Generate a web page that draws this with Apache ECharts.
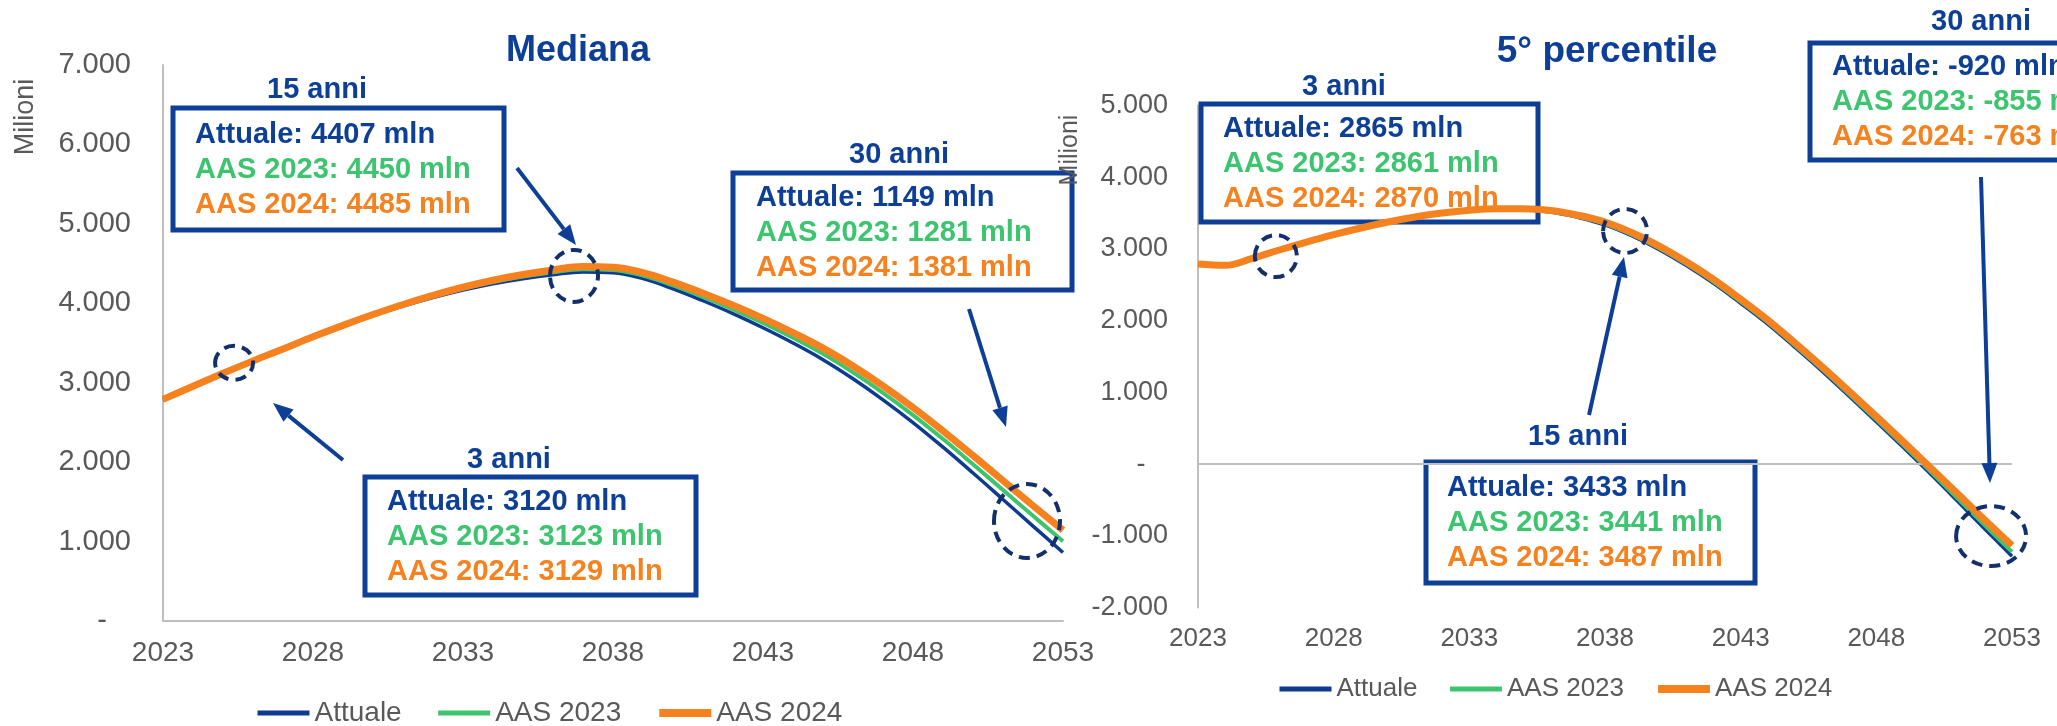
<!DOCTYPE html>
<html>
<head>
<meta charset="utf-8">
<script src="https://cdn.jsdelivr.net/npm/echarts@6/dist/echarts.min.js"></script>
<style>
  html, body { margin: 0; padding: 0; background: #fff; }
  #chartWrap { width: 2057px; height: 726px; }
</style>
</head>
<body>
<div id="chartWrap"></div>
<script>
// x axis
const years = [2023, 2024, 2025, 2026, 2027, 2028, 2029, 2030, 2031, 2032, 2033,
  2034, 2035, 2036, 2037, 2038, 2039, 2040, 2041, 2042, 2043, 2044, 2045,
  2046, 2047, 2048, 2049, 2050, 2051, 2052, 2053];
const xTickLabels = [2023, 2028, 2033, 2038, 2043, 2048, 2053];

// Mediana (milioni)
const medianaAttuale = [2785, 2950, 3113, 3270, 3420, 3573, 3717, 3846, 3965, 4072, 4166,
  4246, 4310, 4360, 4395, 4385, 4310, 4182, 4032, 3870, 3692, 3500, 3290,
  3050, 2785, 2498, 2188, 1863, 1530, 1195, 863];
const medianaAas2023 = [2788, 2953, 3116, 3273, 3423, 3576, 3720, 3852, 3975, 4086, 4184,
  4268, 4336, 4390, 4428, 4420, 4348, 4225, 4080, 3923, 3751, 3565, 3363,
  3130, 2873, 2593, 2291, 1973, 1649, 1324, 1003];
const medianaAas2024 = [2790, 2955, 3118, 3275, 3425, 3578, 3722, 3858, 3985, 4100, 4202,
  4290, 4362, 4420, 4462, 4455, 4386, 4267, 4127, 3975, 3810, 3630, 3435,
  3210, 2960, 2688, 2393, 2083, 1768, 1453, 1143];

// 5° percentile (milioni)
const p5Attuale = [2782, 2764, 2860, 2977, 3087, 3190, 3284, 3367, 3437, 3492, 3530,
  3552, 3548, 3515, 3440, 3335, 3180, 2990, 2768, 2520, 2242, 1950, 1628,
  1295, 945, 590, 230, -140, -520, -905, -1285];
const p5Aas2023 = [2786, 2768, 2864, 2981, 3091, 3194, 3288, 3371, 3441, 3496, 3535,
  3557, 3554, 3523, 3452, 3350, 3198, 3010, 2788, 2542, 2265, 1974, 1653,
  1321, 973, 620, 262, -105, -480, -855, -1225];
const p5Aas2024 = [2790, 2772, 2868, 2985, 3095, 3198, 3292, 3375, 3445, 3500, 3540,
  3562, 3562, 3535, 3470, 3375, 3225, 3040, 2820, 2575, 2300, 2010, 1690,
  1360, 1015, 665, 310, -50, -415, -780, -1135];

const seriesNames = ['Attuale', 'AAS 2023', 'AAS 2024'];

// annotation boxes
const medianaNotes = [
  { title: '15 anni', values: [4407, 4450, 4485] },
  { title: '30 anni', values: [1149, 1281, 1381] },
  { title: '3 anni', values: [3120, 3123, 3129] }
];
const p5Notes = [
  { title: '3 anni', values: [2865, 2861, 2870] },
  { title: '15 anni', values: [3433, 3441, 3487] },
  { title: '30 anni', values: [-920, -855, -763] }
];

// ---- styles / layout ----
const FONT = 'Liberation Sans, Arial, sans-serif';
const BLUE = '#0D3F97';
const LINE_BLUE = '#0E3B8F';
const GREEN = '#3CC46E';
const ORANGE = '#F5821F';
const NAVY = '#13306A';
const GRAY = '#595959';
const AXIS = '#BFBFBF';
const lineColors = [LINE_BLUE, GREEN, ORANGE];
const textColors = [BLUE, GREEN, ORANGE];
const lineWidths = [3.5, 4, 7];

// box: rect [x, y, w, h], title centre, text left x, first line y
const boxLayout = [
  { rect: [173, 108, 331, 122], title: [317, 90], textX: 195, textY: 135 },
  { rect: [733, 173, 339, 117], title: [899, 155], textX: 756, textY: 198 },
  { rect: [365, 477, 331, 118], title: [509, 460], textX: 387, textY: 502 },
  { rect: [1201, 104, 337, 118], title: [1344, 87], textX: 1223, textY: 129 },
  { rect: [1426, 462, 329, 121], title: [1578, 437], textX: 1447, textY: 488 },
  { rect: [1810, 43, 300, 117], title: [1981, 22], textX: 1832, textY: 67 }
];
const LINE_STEP = 35;

// dashed rings, in data units: grid, year, value, rx, ry
const rings = [
  [0, 2025.37, 3250, 19, 17],
  [0, 2036.7, 4345, 24, 26],
  [0, 2051.8, 1259, 33, 37],
  [1, 2025.87, 2900, 21, 21],
  [1, 2038.74, 3250, 22, 22],
  [1, 2052.23, -1004, 35, 30]
];

// arrows in px: from -> tip
const arrows = [
  [517, 168, 576, 245],
  [343, 460, 273, 403],
  [969, 309, 1006, 427],
  [1589, 415, 1624, 257],
  [1981, 177, 1990, 483]
];

function fmtMil(v) {
  if (v === 0) return '-   ';
  const s = Math.abs(v).toString().replace(/\B(?=(\d{3})+(?!\d))/g, '.');
  return (v < 0 ? '-' : '') + s;
}

function lineSeries(name, values, gi, idx) {
  return {
    type: 'line',
    name: name,
    xAxisIndex: gi,
    yAxisIndex: gi,
    data: years.map((y, i) => [y, values[i]]),
    smooth: 0.4,
    symbol: 'none',
    showSymbol: false,
    silent: true,
    z: 3 + idx,
    lineStyle: { color: lineColors[idx], width: lineWidths[idx] },
    itemStyle: { color: lineColors[idx] }
  };
}

function xAxisCfg(gi, showLine, fontSize, margin) {
  return {
    type: 'value',
    gridIndex: gi,
    min: 2023,
    max: 2053,
    axisLine: { show: showLine, onZero: false, lineStyle: { color: AXIS, width: 2 } },
    axisTick: { show: false },
    splitLine: { show: false },
    axisLabel: {
      customValues: xTickLabels,
      formatter: v => String(v),
      fontSize: fontSize, color: GRAY, fontFamily: FONT, margin: margin
    }
  };
}

function yAxisCfg(gi, min, max, fontSize, margin) {
  return {
    type: 'value',
    gridIndex: gi,
    min: min,
    max: max,
    interval: 1000,
    axisLine: { show: true, lineStyle: { color: AXIS, width: 2 } },
    axisTick: { show: false },
    splitLine: { show: false },
    axisLabel: { formatter: fmtMil, fontSize: fontSize, color: GRAY, fontFamily: FONT, margin: margin }
  };
}

function legendCfg(left, top, fontSize, gap) {
  return {
    left: left,
    top: top,
    padding: 0,
    itemWidth: 52,
    itemHeight: 14,
    itemGap: gap,
    selectedMode: false,
    textStyle: { fontSize: fontSize, color: GRAY, fontFamily: FONT },
    data: seriesNames.map((n, i) => ({
      name: n,
      itemStyle: { opacity: 0 },
      lineStyle: { width: [5, 5, 8][i], opacity: 1 }
    }))
  };
}

const chart = echarts.init(document.getElementById('chartWrap'));

const p5Series = [
  lineSeries(seriesNames[0], p5Attuale, 1, 0),
  lineSeries(seriesNames[1], p5Aas2023, 1, 1),
  lineSeries(seriesNames[2], p5Aas2024, 1, 2)
];
p5Series[0].markLine = {
  silent: true,
  symbol: 'none',
  label: { show: false },
  lineStyle: { color: AXIS, width: 2, type: 'solid' },
  data: [{ yAxis: 0 }]
};

chart.setOption({
  animation: false,
  grid: [
    { left: 163, top: 65, width: 900, height: 556 },
    { left: 1198, top: 105.5, width: 814, height: 502 }
  ],
  xAxis: [xAxisCfg(0, true, 28, 18), xAxisCfg(1, false, 26, 18)],
  yAxis: [yAxisCfg(0, 0, 7000, 29, 32), yAxisCfg(1, -2000, 5000, 27, 30)],
  legend: [legendCfg(255, 699, 28, 34), legendCfg(1277, 676, 26, 30)],
  series: [
    lineSeries(seriesNames[0], medianaAttuale, 0, 0),
    lineSeries(seriesNames[1], medianaAas2023, 0, 1),
    lineSeries(seriesNames[2], medianaAas2024, 0, 2)
  ].concat(p5Series)
});

// ---- annotations ----
const elements = [];

function addText(text, x, y, font, color, align, rotation) {
  elements.push({
    type: 'text', x: x, y: y, rotation: rotation || 0, z: 50,
    style: { text: text, font: font, fill: color, textAlign: align, textVerticalAlign: 'middle' }
  });
}

// titles and axis names
addText('Mediana', 578, 51, 'bold 36px ' + FONT, BLUE, 'center');
addText('5° percentile', 1607, 52, 'bold 37px ' + FONT, BLUE, 'center');
addText('Milioni', 26, 117, '27px ' + FONT, GRAY, 'center', Math.PI / 2);
addText('Milioni', 1070, 150, '25px ' + FONT, GRAY, 'center', Math.PI / 2);

// boxes
medianaNotes.concat(p5Notes).forEach((note, k) => {
  const b = boxLayout[k];
  elements.push({
    type: 'rect', z: 1,
    shape: { x: b.rect[0], y: b.rect[1], width: b.rect[2], height: b.rect[3] },
    style: { fill: 'none', stroke: BLUE, lineWidth: 5 }
  });
  addText(note.title, b.title[0], b.title[1], 'bold 29px ' + FONT, BLUE, 'center');
  note.values.forEach((v, i) => {
    addText(seriesNames[i] + ': ' + v + ' mln', b.textX, b.textY + i * LINE_STEP,
      'bold 29px ' + FONT, textColors[i], 'left');
  });
});

// arrows
arrows.forEach(a => {
  const ang = Math.atan2(a[3] - a[1], a[2] - a[0]);
  const hl = 20, hw = 8;
  const bx = a[2] - hl * Math.cos(ang), by = a[3] - hl * Math.sin(ang);
  elements.push({
    type: 'line', z: 60,
    shape: { x1: a[0], y1: a[1], x2: bx, y2: by },
    style: { stroke: BLUE, lineWidth: 4 }
  });
  elements.push({
    type: 'polygon', z: 60,
    shape: { points: [[a[2], a[3]], [bx - hw * Math.sin(ang), by + hw * Math.cos(ang)], [bx + hw * Math.sin(ang), by - hw * Math.cos(ang)]] },
    style: { fill: BLUE }
  });
});

// dashed rings
rings.forEach(r => {
  const p = chart.convertToPixel({ gridIndex: r[0] }, [r[1], r[2]]);
  elements.push({
    type: 'ellipse', z: 70,
    shape: { cx: p[0], cy: p[1], rx: r[3], ry: r[4] },
    style: { fill: 'none', stroke: NAVY, lineWidth: 4, lineDash: [11, 7] }
  });
});

chart.setOption({ graphic: { elements: elements } });
</script>
</body>
</html>
